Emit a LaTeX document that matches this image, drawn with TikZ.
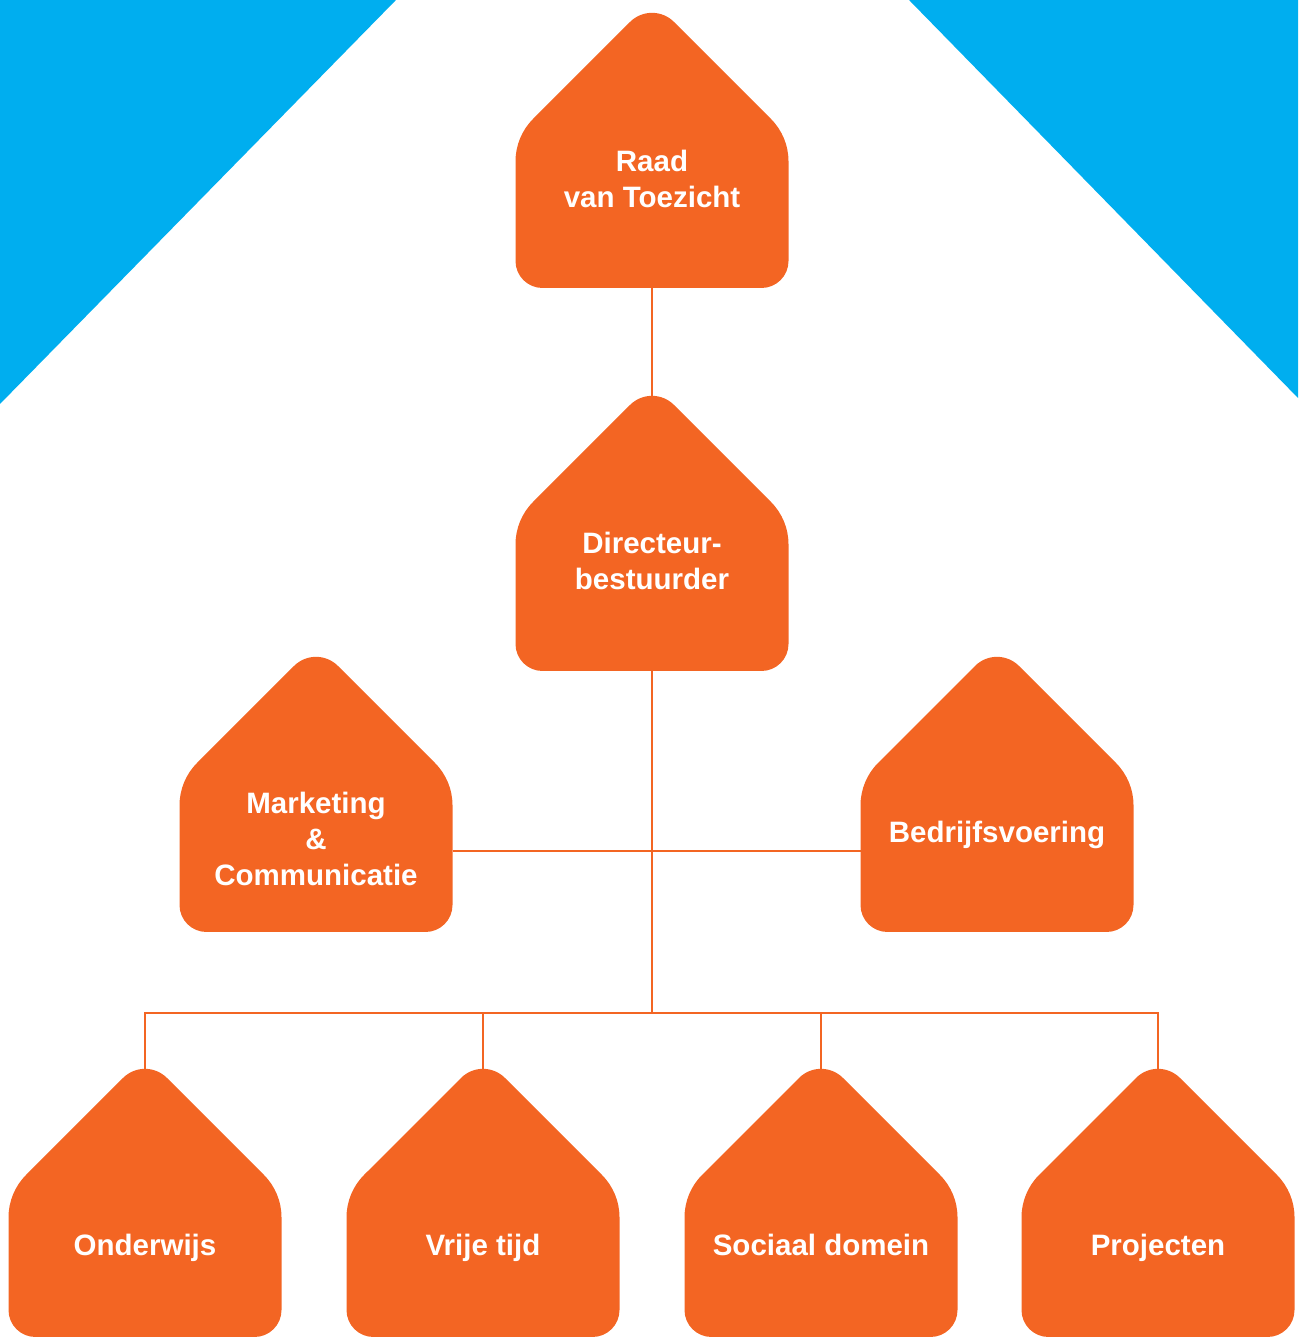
\documentclass[tikz,border=0pt]{standalone}
\usepackage{fontspec}
\setmainfont{Liberation Sans}
\definecolor{hsorange}{HTML}{F36523}
\definecolor{hsblue}{HTML}{00AEEF}
\tikzset{
  housefill/.style={fill=hsorange},
  housebox/.style={rectangle, minimum width=273pt, inner sep=0pt, outer sep=0pt, draw=none},
  lbl/.style={text=white, font=\bfseries\fontsize{29.5}{36}\selectfont, align=center, inner sep=0pt, anchor=base},
  conn/.style={draw=hsorange, line width=2.5pt}
}
% #1 cx, #2 sharp top (px, y down), #3 bottom (px, y down)
\newcommand\drawhouse[3]{%
  \pgfmathsetmacro\hT{1338-#2}%
  \pgfmathsetmacro\hB{1338-#3}%
  \pgfmathsetmacro\hL{#1-136.5}%
  \pgfmathsetmacro\hR{#1+136.5}%
  \pgfmathsetmacro\hS{\hT-136.5}%
  \fill[housefill] (#1,\hB) -- (\hL+27,\hB)
    arc[start angle=270,end angle=180,radius=27]
    -- (\hL,\hS-24.85) arc[start angle=180,end angle=135,radius=60]
    -- (#1-21.92,\hT-21.92) arc[start angle=135,end angle=45,radius=31]
    -- (\hR-17.57,\hS+17.57) arc[start angle=45,end angle=0,radius=60]
    -- (\hR,\hB+27) arc[start angle=0,end angle=-90,radius=27]
    -- cycle;
}
\begin{document}
\begin{tikzpicture}[x=1pt,y=1pt]
\useasboundingbox (0,0) rectangle (1298,1338);
\clip (0,0) rectangle (1298,1338);
% background triangles
\fill[hsblue] (0,1338) -- (396,1338) -- (0,{1338-404}) -- cycle;
\fill[hsblue] (909,1338) -- (1298,1338) -- (1298,{1338-398}) -- cycle;

% house anchor boxes (visible apex to bottom)
\node[housebox, minimum height=276pt] (raad) at (652,{1338-150}) {};
\node[housebox, minimum height=275pt] (dir)  at (652,{1338-533.5}) {};
\node[housebox, minimum height=275pt] (mark) at (316,{1338-794.5}) {};
\node[housebox, minimum height=275pt] (bedr) at (997,{1338-794.5}) {};
\node[housebox, minimum height=269pt] (ond)  at (145,{1338-1203.5}) {};
\node[housebox, minimum height=269pt] (vrij) at (483,{1338-1203.5}) {};
\node[housebox, minimum height=269pt] (soc)  at (821,{1338-1203.5}) {};
\node[housebox, minimum height=269pt] (proj) at (1158,{1338-1203.5}) {};
\coordinate (j1) at (652,{1338-851});
\coordinate (j2) at (652,{1338-1013});

% connectors
\draw[conn] (raad.south) -- (dir.north);
\draw[conn] (dir.south) -- (j2);
\draw[conn] (mark.east |- j1) -- (bedr.west |- j1);
\draw[conn] (ond.north) |- (j2);
\draw[conn] (vrij.north) |- (j2);
\draw[conn] (soc.north) |- (j2);
\draw[conn] (proj.north) |- (j2);

% houses
\drawhouse{652}{0}{288}
\drawhouse{652}{383}{671}
\drawhouse{316}{644}{932}
\drawhouse{997}{644}{932}
\drawhouse{145}{1056}{1337}
\drawhouse{483}{1056}{1337}
\drawhouse{821}{1056}{1337}
\drawhouse{1158}{1056}{1337}

% labels (anchor=base is the last line's baseline)
\node[lbl] (raad-t) at (652,{1338-208}) {Raad\\van Toezicht};
\node[lbl] (dir-t)  at (652,{1338-590}) {Directeur-\\bestuurder};
\node[lbl] (mark-t) at (316,{1338-886}) {Marketing\\\&\\Communicatie};
\node[lbl] (bedr-t) at (997,{1338-843}) {Bedrijfsvoering};
\node[lbl] (ond-t)  at (145,{1338-1256}) {Onderwijs};
\node[lbl] (vrij-t) at (483,{1338-1256}) {Vrije tijd};
\node[lbl] (soc-t)  at (821,{1338-1256}) {Sociaal domein};
\node[lbl] (proj-t) at (1158,{1338-1256}) {Projecten};
\end{tikzpicture}
\end{document}
